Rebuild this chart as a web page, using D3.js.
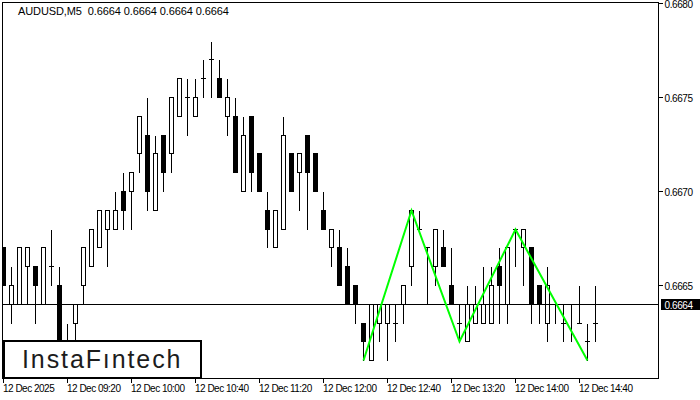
<!DOCTYPE html>
<html>
<head>
<meta charset="utf-8">
<script src="https://cdn.jsdelivr.net/npm/d3@7"></script>
<style>
  html, body { margin: 0; padding: 0; background: #fff; }
  svg { display: block; }
  text { font-family: "Liberation Sans", Arial, sans-serif; }
</style>
</head>
<body>
<svg id="chart" width="700" height="400"></svg>
<script>
// ---- data (AUDUSD M5, 12 Dec 2025, from 08:40) ----
const symbolTitle = "AUDUSD,M5";
const lastQuote = [0.6664, 0.6664, 0.6664, 0.6664];
const openP  = [0.6667,0.6664,0.6664,0.6666,0.6666,0.6664,0.6666,0.6665,0.6661,0.6663,
                0.6665,0.6666,0.6667,0.6668,0.6668,0.6670,0.6670,0.6672,0.6673,0.6669,
                0.6673,0.6672,0.6674,0.6675,0.6674,0.6676,0.6677,0.6676,0.6674,0.6674,
                0.6670,0.6674,0.6672,0.6669,0.6667,0.6668,0.6672,0.6671,0.6673,0.6672,
                0.6669,0.6667,0.6667,0.6666,0.6665,0.6663,0.6661,0.6663,0.6663,0.6663,
                0.6664,0.6666,0.6668,0.6667,0.6666,0.6667,0.6665,0.6663,0.6662,0.6663,
                0.6663,0.6663,0.6666,0.6664,0.6668,0.6667,0.6667,0.6665,0.6663,0.6664,
                0.6663,0.6664,0.6663,0.6662,0.6663,0.6664];
const highP  = [0.6667,0.6666,0.6667,0.6667,0.6666,0.6667,0.6668,0.6666,0.6663,0.6664,
                0.6667,0.6668,0.6669,0.6669,0.6670,0.6671,0.6671,0.6674,0.6675,0.6673,
                0.6673,0.6675,0.6676,0.6676,0.6676,0.6677,0.6678,0.6677,0.6676,0.6675,
                0.6674,0.6674,0.6672,0.6670,0.6669,0.6674,0.6672,0.6672,0.6673,0.6672,
                0.6670,0.6668,0.6668,0.6667,0.6665,0.6663,0.6664,0.6664,0.6664,0.6664,
                0.6665,0.6669,0.6669,0.6667,0.6668,0.6668,0.6667,0.6664,0.6665,0.6665,
                0.6666,0.6666,0.6667,0.6667,0.6668,0.6668,0.6667,0.6665,0.6666,0.6664,
                0.6664,0.6664,0.6665,0.6663,0.6665,0.6664];
const lowP   = [0.6665,0.6663,0.6664,0.6664,0.6663,0.6664,0.6665,0.6660,0.6660,0.6661,
                0.6664,0.6666,0.6667,0.6666,0.6668,0.6668,0.6668,0.6671,0.6669,0.6669,
                0.6670,0.6671,0.6674,0.6673,0.6674,0.6675,0.6675,0.6675,0.6673,0.6671,
                0.6670,0.6670,0.6670,0.6667,0.6667,0.6668,0.6670,0.6669,0.6668,0.6670,
                0.6668,0.6666,0.6665,0.6664,0.6663,0.6661,0.6661,0.6662,0.6661,0.6662,
                0.6663,0.6665,0.6668,0.6664,0.6665,0.6666,0.6664,0.6662,0.6662,0.6663,
                0.6663,0.6663,0.6663,0.6663,0.6666,0.6665,0.6663,0.6663,0.6662,0.6663,
                0.6662,0.6662,0.6663,0.6661,0.6662,0.6664];
const closeP = [0.6665,0.6665,0.6667,0.6667,0.6665,0.6667,0.6666,0.6661,0.6662,0.6664,
                0.6667,0.6668,0.6669,0.6669,0.6669,0.6669,0.6671,0.6674,0.6670,0.6672,
                0.6671,0.6675,0.6676,0.6675,0.6675,0.6676,0.6677,0.6675,0.6675,0.6671,
                0.6673,0.6671,0.6670,0.6668,0.6669,0.6673,0.6670,0.6672,0.6671,0.6670,
                0.6668,0.6668,0.6665,0.6664,0.6664,0.6662,0.6664,0.6664,0.6664,0.6663,
                0.6665,0.6669,0.6668,0.6667,0.6668,0.6666,0.6664,0.6663,0.6664,0.6664,
                0.6664,0.6665,0.6665,0.6667,0.6668,0.6668,0.6664,0.6664,0.6665,0.6664,
                0.6663,0.6664,0.6663,0.6662,0.6663,0.6664];
const priceTicks = [0.6665, 0.6670, 0.6675, 0.6680];
const timeTickIdx = [0, 8, 16, 24, 32, 40, 48, 56, 64, 72];
const timeTickLabels = ["12 Dec 2025","12 Dec 09:20","12 Dec 10:00","12 Dec 10:40","12 Dec 11:20",
                        "12 Dec 12:00","12 Dec 12:40","12 Dec 13:20","12 Dec 14:00","12 Dec 14:40"];
const currentPrice = 0.6664;
const patternIdx = [45, 51, 57, 64, 73];
const patternPrice = [0.6661, 0.6669, 0.6662, 0.6668, 0.6661];
const logoText = "InstaF\u0131ntech";

// ---- layout ----
const svg = d3.select("#chart");
const frame = {left: 2.5, top: 2.5, right: 658.5, bottom: 378.5};
const x = d3.scaleLinear().domain([0, 75]).range([3.5, 603.5]);
const y = d3.scaleLinear().domain([0.6660, 0.6680]).range([379.5, 3.5]);
const snap = v => Math.round(v - 0.5) + 0.5;
const Y = p => snap(y(p));

const bars = openP.map((o, i) => ({i, o, h: highP[i], l: lowP[i], c: closeP[i]}));

svg.append("defs").append("clipPath").attr("id", "plotclip")
  .append("rect").attr("x", frame.left).attr("y", frame.top)
  .attr("width", frame.right - frame.left).attr("height", frame.bottom - frame.top);

const plot = svg.append("g").attr("clip-path", "url(#plotclip)");

// wicks
plot.append("g").selectAll("line").data(bars).join("line")
  .attr("x1", d => x(d.i)).attr("x2", d => x(d.i))
  .attr("y1", d => Y(d.h)).attr("y2", d => Y(d.l) + 0.5)
  .attr("stroke", "#000").attr("stroke-width", 1).attr("shape-rendering", "crispEdges");

// bodies
plot.append("g").selectAll("rect").data(bars.filter(d => d.o !== d.c)).join("rect")
  .attr("x", d => x(d.i) - 2)
  .attr("y", d => Y(Math.max(d.o, d.c)))
  .attr("width", 4)
  .attr("height", d => Y(Math.min(d.o, d.c)) - Y(Math.max(d.o, d.c)))
  .attr("fill", d => d.c > d.o ? "#fff" : "#000")
  .attr("stroke", "#000").attr("stroke-width", 1).attr("shape-rendering", "crispEdges");

// doji crosses
plot.append("g").selectAll("line").data(bars.filter(d => d.o === d.c)).join("line")
  .attr("x1", d => x(d.i) - 2.5).attr("x2", d => x(d.i) + 2.5)
  .attr("y1", d => Y(d.o)).attr("y2", d => Y(d.o))
  .attr("stroke", "#000").attr("stroke-width", 1).attr("shape-rendering", "crispEdges");

// current price line
plot.append("line")
  .attr("x1", frame.left).attr("x2", frame.right)
  .attr("y1", Y(currentPrice)).attr("y2", Y(currentPrice))
  .attr("stroke", "#000").attr("stroke-width", 1).attr("shape-rendering", "crispEdges");

// pattern
plot.append("path")
  .datum(patternIdx.map((b, k) => [x(b), Y(patternPrice[k])]))
  .attr("d", d3.line())
  .attr("fill", "none").attr("stroke", "#00ff00").attr("stroke-width", 2)
  .attr("stroke-linejoin", "miter");

// frame
svg.append("rect")
  .attr("x", frame.left).attr("y", frame.top)
  .attr("width", frame.right - frame.left).attr("height", frame.bottom - frame.top)
  .attr("fill", "none").attr("stroke", "#000").attr("stroke-width", 1)
  .attr("shape-rendering", "crispEdges");

// price axis
const yAxis = d3.axisRight(y).tickValues(priceTicks).tickSize(4).tickPadding(2)
  .tickFormat(d3.format(".4f"));
const ya = svg.append("g").attr("transform", `translate(${frame.right},0)`).call(yAxis);
ya.select(".domain").remove();
ya.selectAll(".tick").attr("transform", d => `translate(0,${Y(d)})`);
ya.selectAll(".tick line").attr("stroke", "#000").attr("shape-rendering", "crispEdges");
ya.selectAll(".tick text").attr("font-size", 10).attr("fill", "#000")
  .attr("font-family", "Liberation Sans, Arial, sans-serif")
  .style("letter-spacing", "-0.4px").attr("x", 6).attr("dy", 0).attr("y", 4.5);

// current price label
const cpY = Y(currentPrice);
svg.append("rect").attr("x", 661).attr("y", cpY - 5.5).attr("width", 39).attr("height", 11)
  .attr("fill", "#000");
svg.append("text").attr("x", frame.right + 6).attr("y", cpY + 4)
  .attr("font-size", 10).attr("fill", "#fff").style("letter-spacing", "-0.4px")
  .text(d3.format(".4f")(currentPrice));

// time axis
const xAxis = d3.axisBottom(x).tickValues(timeTickIdx).tickSize(4)
  .tickFormat((d, k) => timeTickLabels[k]);
const xa = svg.append("g").attr("transform", `translate(0,${frame.bottom})`).call(xAxis);
xa.select(".domain").remove();
xa.selectAll(".tick").attr("transform", d => `translate(${x(d)},0)`);
xa.selectAll(".tick line").attr("stroke", "#000").attr("shape-rendering", "crispEdges");
xa.selectAll(".tick text").attr("font-size", 10).attr("fill", "#000")
  .attr("font-family", "Liberation Sans, Arial, sans-serif")
  .attr("text-anchor", "start").attr("x", -0.5).attr("y", 13.5).attr("dy", 0)
  .style("letter-spacing", "-0.5px");

// header
svg.append("text").attr("x", 18).attr("y", 15).attr("font-size", 11).attr("fill", "#000")
  .style("letter-spacing", "-0.1px").style("white-space", "pre")
  .text(symbolTitle + "  " + lastQuote.map(d3.format(".4f")).join(" "));

// logo
svg.append("rect").attr("x", 4).attr("y", 341).attr("width", 197).attr("height", 37)
  .attr("fill", "#fff").attr("stroke", "#000").attr("stroke-width", 2);
svg.append("text").attr("x", 22).attr("y", 368).attr("font-size", 25)
  .attr("font-family", "'Open Sans', Lato, sans-serif").attr("font-weight", 500)
  .attr("fill", "#1c1c1c")
  .style("letter-spacing", "1.9px")
  .text(logoText);
</script>
</body>
</html>
